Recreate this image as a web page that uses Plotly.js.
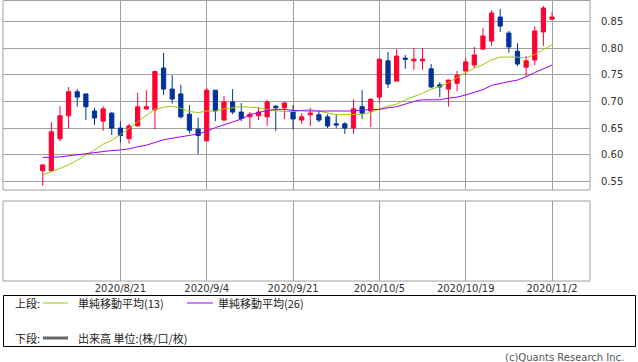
<!DOCTYPE html>
<html>
<head>
<meta charset="utf-8">
<script src="https://cdn.plot.ly/plotly-3.0.1.min.js"></script>
<style>html,body{margin:0;padding:0;background:#fff;}#chart{width:638px;height:362px;}</style>
</head>
<body>
<div id="chart"></div>
<script>
const dates = ["2020/8/10","2020/8/11","2020/8/12","2020/8/13","2020/8/14","2020/8/17","2020/8/18","2020/8/19","2020/8/20","2020/8/21",
"2020/8/24","2020/8/25","2020/8/26","2020/8/27","2020/8/28","2020/8/31","2020/9/1","2020/9/2","2020/9/3","2020/9/4",
"2020/9/8","2020/9/9","2020/9/10","2020/9/11","2020/9/14","2020/9/15","2020/9/16","2020/9/17","2020/9/18","2020/9/21",
"2020/9/22","2020/9/23","2020/9/24","2020/9/25","2020/9/28","2020/9/29","2020/9/30","2020/10/1","2020/10/2","2020/10/5",
"2020/10/6","2020/10/7","2020/10/8","2020/10/9","2020/10/12","2020/10/13","2020/10/14","2020/10/15","2020/10/16","2020/10/19",
"2020/10/20","2020/10/21","2020/10/22","2020/10/23","2020/10/26","2020/10/27","2020/10/28","2020/10/29","2020/10/30","2020/11/2"];
const openV = [0.570,0.570,0.630,0.673,0.718,0.714,0.682,0.663,0.678,0.650,
0.630,0.654,0.686,0.684,0.7625,0.723,0.714,0.676,0.648,0.626,
0.721,0.665,0.699,0.680,0.671,0.673,0.671,0.691,0.688,0.682,
0.665,0.675,0.675,0.671,0.658,0.658,0.650,0.690,0.682,0.708,
0.776,0.738,0.781,0.776,0.776,0.761,0.731,0.723,0.734,0.757,
0.768,0.798,0.813,0.858,0.828,0.794,0.764,0.7775,0.830,0.854];
const highV = [0.582,0.661,0.691,0.727,0.723,0.714,0.688,0.691,0.680,0.663,
0.658,0.716,0.721,0.757,0.791,0.749,0.731,0.693,0.669,0.725,
0.721,0.710,0.723,0.697,0.680,0.690,0.703,0.693,0.699,0.693,
0.678,0.688,0.682,0.676,0.676,0.661,0.704,0.721,0.706,0.781,
0.7925,0.798,0.787,0.800,0.800,0.770,0.736,0.740,0.757,0.781,
0.802,0.837,0.871,0.873,0.832,0.809,0.785,0.841,0.879,0.867];
const lowV = [0.542,0.569,0.625,0.649,0.690,0.665,0.656,0.645,0.637,0.623,
0.621,0.653,0.684,0.648,0.712,0.696,0.668,0.640,0.6015,0.626,
0.663,0.664,0.676,0.663,0.650,0.665,0.654,0.645,0.667,0.647,
0.658,0.654,0.661,0.650,0.650,0.639,0.639,0.667,0.652,0.697,
0.725,0.738,0.761,0.759,0.759,0.725,0.708,0.690,0.719,0.751,
0.763,0.796,0.804,0.830,0.791,0.766,0.746,0.768,0.804,0.854];
const closeV = [0.581,0.643,0.673,0.718,0.708,0.690,0.669,0.686,0.650,0.636,
0.654,0.690,0.690,0.756,0.723,0.7045,0.671,0.646,0.636,0.721,
0.682,0.699,0.680,0.668,0.676,0.680,0.699,0.688,0.697,0.667,
0.671,0.678,0.665,0.654,0.656,0.650,0.686,0.678,0.704,0.779,
0.7326,0.785,0.779,0.779,0.779,0.727,0.727,0.740,0.749,0.774,
0.787,0.8225,0.8656,0.841,0.802,0.770,0.776,0.832,0.875,0.858];
const sma13 = [0.562,0.568,0.575,0.581,0.590,0.599,0.609,0.620,0.627,0.638,
0.649,0.662,0.673,0.685,0.689,0.691,0.687,0.681,0.679,0.682,
0.682,0.686,0.688,0.690,0.689,0.688,0.684,0.682,0.681,0.681,
0.683,0.685,0.682,0.679,0.675,0.675,0.675,0.676,0.679,0.686,
0.691,0.695,0.703,0.709,0.715,0.723,0.728,0.735,0.745,0.754,
0.762,0.769,0.778,0.783,0.783,0.783,0.781,0.788,0.797,0.806];
const sma26 = [0.595,0.595,0.596,0.598,0.600,0.603,0.605,0.607,0.608,0.609,
0.611,0.615,0.618,0.623,0.628,0.631,0.634,0.637,0.639,0.644,
0.651,0.656,0.661,0.667,0.675,0.679,0.683,0.685,0.685,0.683,
0.682,0.682,0.682,0.682,0.682,0.682,0.682,0.684,0.684,0.685,
0.688,0.690,0.695,0.700,0.703,0.703,0.703,0.706,0.708,0.712,
0.717,0.722,0.730,0.734,0.737,0.740,0.746,0.754,0.761,0.768];
const tickDates = ["2020/8/21","2020/9/4","2020/9/21","2020/10/5","2020/10/19","2020/11/2"];

const W = 638, H = 362;
const px = v => v / W;
const py = v => 1 - v / H;
const GRID = '#a0a0a0';
const TXT = '#333333';

const traces = [
  {type:'candlestick', x:dates, open:openV, high:highV, low:lowV, close:closeV,
   xaxis:'x', yaxis:'y', whiskerwidth:0, hoverinfo:'none',
   increasing:{line:{color:'#ff0033', width:1}, fillcolor:'#ff0033'},
   decreasing:{line:{color:'#003399', width:1}, fillcolor:'#003399'}},
  {type:'scatter', mode:'lines', x:dates, y:sma13, xaxis:'x', yaxis:'y',
   line:{color:'#99cc00', width:1}, hoverinfo:'none'},
  {type:'scatter', mode:'lines', x:dates, y:sma26, xaxis:'x', yaxis:'y',
   line:{color:'#9900ff', width:1}, hoverinfo:'none'},
  {type:'scatter', mode:'lines', x:[dates[0]], y:[null], xaxis:'x', yaxis:'y2', hoverinfo:'none'}
];

const shapes = [
  {type:'rect', xref:'x domain', yref:'y domain', x0:0, x1:1, y0:0, y1:1, line:{color:GRID, width:1}},
  {type:'rect', xref:'x domain', yref:'y2 domain', x0:0, x1:1, y0:0, y1:1, line:{color:GRID, width:1}},
  {type:'rect', xref:'paper', yref:'paper', x0:px(3.5), x1:px(635.5), y0:py(346.5), y1:py(295.5), line:{color:'#000', width:1}},
  {type:'line', xref:'paper', yref:'paper', x0:px(43), x1:px(68), y0:py(303), y1:py(303), line:{color:'#99cc00', width:1}},
  {type:'line', xref:'paper', yref:'paper', x0:px(187), x1:px(213), y0:py(303), y1:py(303), line:{color:'#9900ff', width:1}},
  {type:'line', xref:'paper', yref:'paper', x0:px(43), x1:px(68), y0:py(338), y1:py(338), line:{color:'#666666', width:3}}
];

const cjk = {family:'"Noto Sans CJK JP", "DejaVu Sans", sans-serif', size:11, color:'#222'};
const ann = (x, y, text, anchor, font) => ({xref:'paper', yref:'paper', x:px(x), y:py(y), text:text,
  showarrow:false, xanchor:anchor || 'left', yanchor:'middle', font:font || cjk});

const annotations = [
  ann(13, 303, '上段:'),
  ann(76, 303, '単純移動平均(13)'),
  ann(216, 303, '単純移動平均(26)'),
  ann(13, 338, '下段:'),
  ann(76, 338, '出来高 単位:(株/口/枚)'),
  ann(626, 357, '(c)Quants Research Inc.', 'right', {family:'"DejaVu Sans", sans-serif', size:10, color:'#555'})
];

const layout = {
  width:W, height:H, margin:{l:0, r:0, t:0, b:0},
  paper_bgcolor:'#fff', plot_bgcolor:'#fff', showlegend:false,
  font:{family:'"DejaVu Sans", sans-serif', size:10, color:TXT},
  xaxis:{type:'category', domain:[px(3), px(590)], anchor:'y2', range:[-4.6, 63.4],
    tickmode:'array', tickvals:tickDates, ticktext:tickDates,
    showgrid:true, gridcolor:GRID, gridwidth:1, ticks:'', zeroline:false, showline:false,
    tickfont:{size:10, color:TXT}, rangeslider:{visible:false}, fixedrange:true},
  yaxis:{domain:[py(190), py(0.5)], anchor:'x', side:'right', range:[0.534, 0.889],
    tickmode:'linear', tick0:0.55, dtick:0.05, tickformat:'.2f',
    showgrid:true, gridcolor:GRID, gridwidth:1, zeroline:false, showline:false,
    ticks:'outside', ticklen:8, tickcolor:'rgba(0,0,0,0)', tickfont:{size:10, color:TXT}, fixedrange:true},
  yaxis2:{domain:[py(281), py(201)], anchor:'x', range:[0,1], showgrid:false, zeroline:false,
    showticklabels:false, ticks:'', showline:false, fixedrange:true},
  shapes:shapes, annotations:annotations
};

Plotly.newPlot('chart', traces, layout, {staticPlot:true, displayModeBar:false});
</script>
</body>
</html>
